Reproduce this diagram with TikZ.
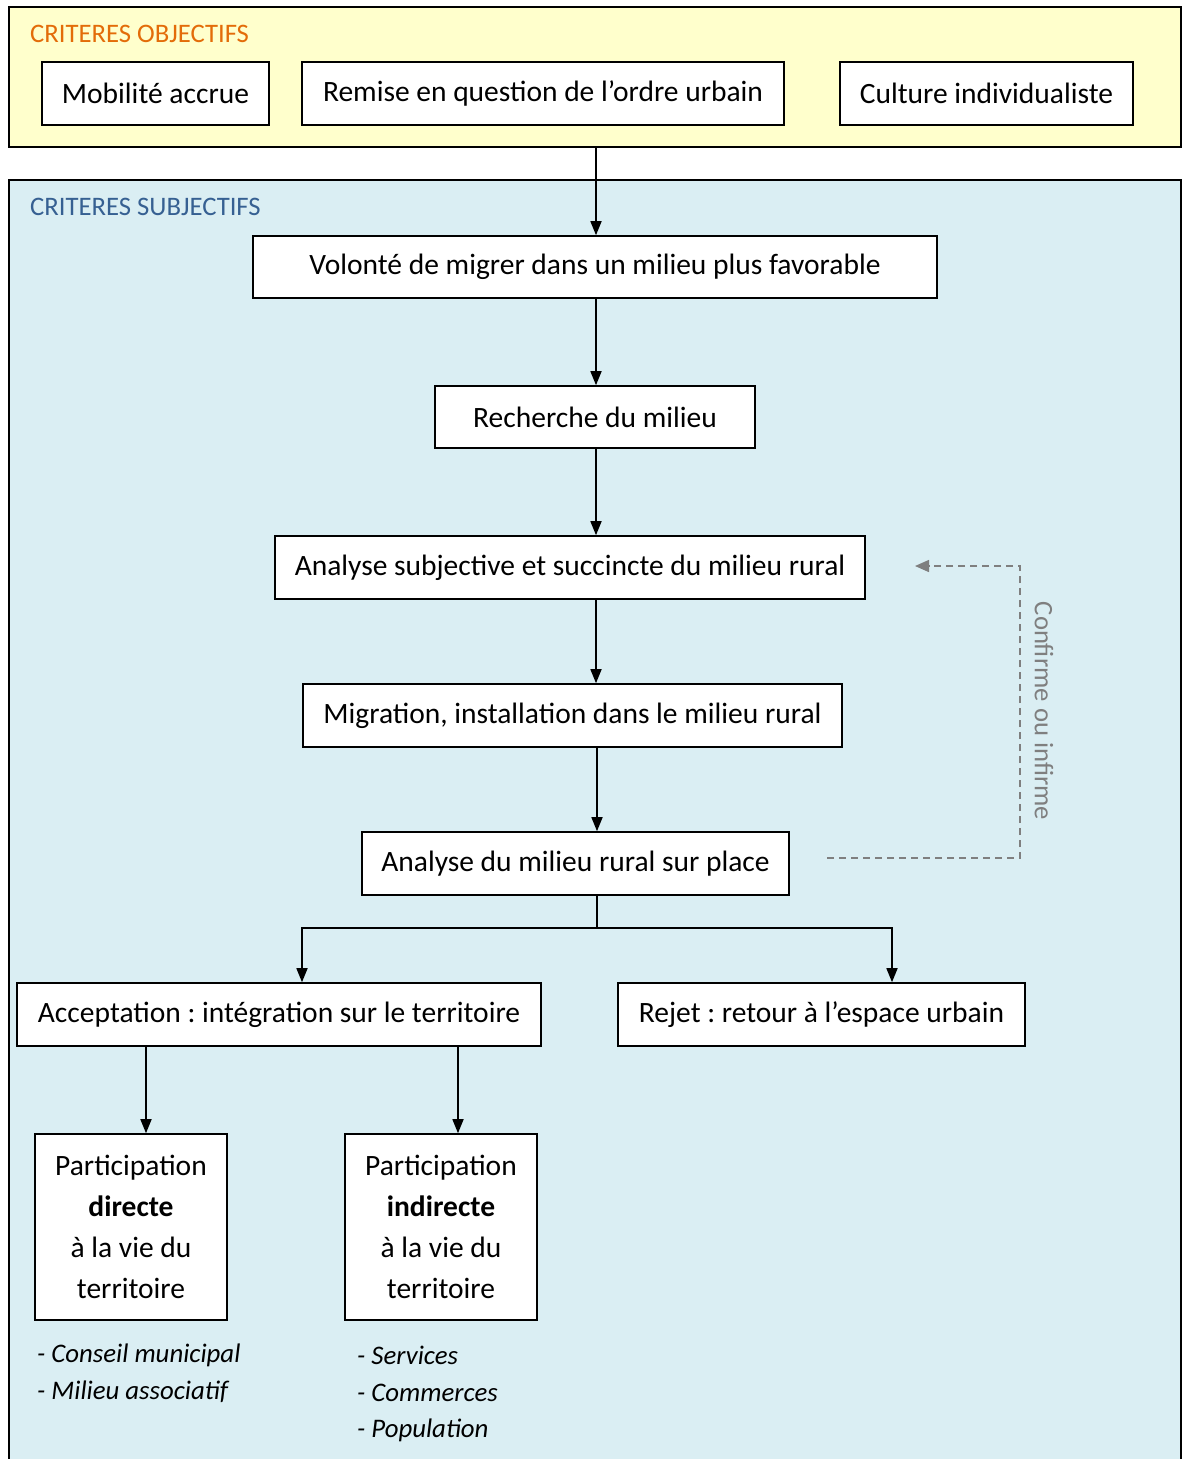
\documentclass[tikz,border=0pt]{standalone}
\usepackage{fontspec}
\setmainfont{Carlito}
\usetikzlibrary{arrows.meta}
\frenchspacing
\definecolor{yel}{HTML}{FFFFCC}
\definecolor{blu}{HTML}{DAEEF3}
\definecolor{orng}{HTML}{E36C09}
\definecolor{titleblue}{HTML}{366092}
\definecolor{grayc}{HTML}{7F7F7F}
\tikzset{
  box/.style={draw=black, line width=1.6pt, fill=white, inner sep=0pt, font=\fontsize{29.5}{35}\selectfont},
  conn/.style={line width=1.6pt, -{Triangle[width=11pt,length=14pt]}},
  lbl/.style={anchor=west, inner sep=0pt, font=\fontsize{26.7}{30}\selectfont},
  itl/.style={anchor=west, inner sep=0pt, font=\fontsize{26.8}{30}\selectfont\itshape},
}
\begin{document}
\frenchspacing
\begin{tikzpicture}[x=1pt,y=-1pt]
\useasboundingbox (0,0) rectangle (1186,1459);
\clip (0,0) rectangle (1186,1459);
% background panels
\fill[yel] (9,7) rectangle (1181,147);
\draw[line width=1.6pt] (9,7) rectangle (1181,147);
\fill[blu] (9,180) rectangle (1181,1470);
\draw[line width=1.6pt] (9,1470) -- (9,180) -- (1181,180) -- (1181,1470);
\node[lbl, text=orng] (tobj) at (30,34) {CRITERES OBJECTIFS};
\node[lbl, text=titleblue] (tsub) at (30,207) {CRITERES SUBJECTIFS};
\coordinate (objbot) at (596,147);
% top boxes
\node[box, minimum width=227pt, minimum height=63pt] (mob) at (155.5,93.5) {Mobilité accrue};
\node[box, minimum width=482pt, minimum height=63pt] (rem) at (543,93.5) {Remise en question de l’ordre urbain};
\node[box, minimum width=293pt, minimum height=63pt] (cul) at (986.5,93.5) {Culture individualiste};
% chain
\node[box, minimum width=684pt, minimum height=62pt] (vol) at (595,267) {Volonté de migrer dans un milieu plus favorable};
\node[box, minimum width=320pt, minimum height=62pt] (rec) at (595,417) {Recherche du milieu};
\node[box, minimum width=590pt, minimum height=63pt] (ana) at (570,567.5) {Analyse subjective et succincte du milieu rural};
\node[box, minimum width=539pt, minimum height=63pt] (mig) at (572.5,715.5) {Migration, installation dans le milieu rural};
\node[box, minimum width=427pt, minimum height=63pt] (plc) at (575.5,863.5) {Analyse du milieu rural sur place};
\node[box, minimum width=524pt, minimum height=63pt] (acc) at (279,1014.5) {Acceptation : intégration sur le territoire};
\node[box, minimum width=407pt, minimum height=63pt] (rej) at (821.5,1014.5) {Rejet : retour à l’espace urbain};
\node[box, minimum width=192pt, minimum height=186pt, align=center, font=\fontsize{29.5}{41}\selectfont] (dir) at (131,1227) {Participation\\\textbf{directe}\\à la vie du\\territoire};
\node[box, minimum width=192pt, minimum height=186pt, align=center, font=\fontsize{29.5}{41}\selectfont] (ind) at (441,1227) {Participation\\\textbf{indirecte}\\à la vie du\\territoire};
% arrows
\draw[conn] (objbot) -- (vol.north -| objbot);
\draw[conn] (vol.south -| objbot) -- (rec.north -| objbot);
\draw[conn] (rec.south -| objbot) -- (ana.north -| objbot);
\draw[conn] (ana.south -| objbot) -- (mig.north -| objbot);
\coordinate (c597) at (597,0);
\draw[conn] (mig.south -| c597) -- (plc.north -| c597);
\coordinate (cacc) at (302,928);
\coordinate (crej) at (892,928);
\draw[line width=1.6pt] (plc.south -| c597) -- (c597 |- cacc);
\draw[conn] (c597 |- cacc) -- (cacc) -- (acc.north -| cacc);
\draw[conn] (c597 |- cacc) -- (crej) -- (rej.north -| crej);
\coordinate (c146) at (146,0);
\coordinate (c458) at (458,0);
\draw[conn] (acc.south -| c146) -- (dir.north -| c146);
\draw[conn] (acc.south -| c458) -- (ind.north -| c458);
% dashed feedback
\coordinate (fbs) at (827,858);
\coordinate (fbe) at (915,566);
\coordinate (fbx) at (1020,0);
\draw[grayc, line width=1.5pt, dash pattern=on 7pt off 5pt, -{Triangle[width=12pt,length=14pt]}] (fbs) -- (fbs -| fbx) -- (fbe -| fbx) -- (fbe);
\node[rotate=-90, text=grayc, inner sep=0pt, font=\fontsize{26.7}{30}\selectfont] (conf) at (1044,711) {Confirme ou infirme};
% lists
\node[itl] (l1) at (37,1355) {- Conseil municipal};
\node[itl] (l2) at (37,1392) {- Milieu associatif};
\node[itl] (l3) at (357,1355) {- Services};
\node[itl] (l4) at (357,1393) {- Commerces};
\node[itl] (l5) at (357,1430) {- Population};
\end{tikzpicture}
\end{document}
